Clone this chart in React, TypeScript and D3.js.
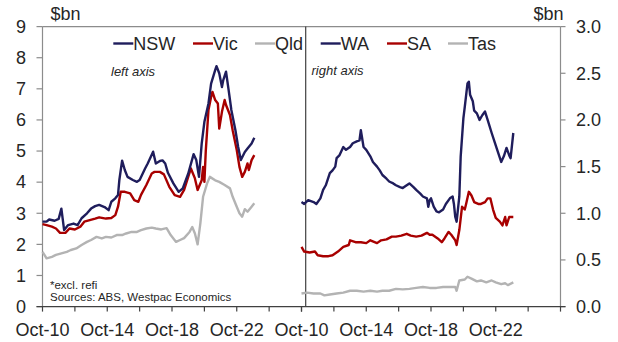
import React from "react";
import * as d3 from "d3";

// months since Oct-2010 and values ($bn)
const nswM = [0, 3, 5, 9, 12, 14, 16, 19, 23, 26, 29, 33, 36, 39, 42, 46, 49, 51, 54, 56, 57, 59, 61, 63, 67, 70, 72, 76, 78, 82, 84, 87, 89, 91, 93, 97, 101, 104, 108, 112, 114, 116, 118, 120, 123, 125, 128, 129, 131, 133, 134, 136, 138, 140, 143, 145, 147, 150, 152, 155, 157];
const nsw = [2.73, 2.73, 2.8, 2.76, 2.82, 3.15, 2.46, 2.62, 2.67, 2.62, 2.84, 3.0, 3.15, 3.23, 3.27, 3.2, 3.1, 3.37, 3.48, 3.59, 4.07, 4.69, 4.39, 4.17, 4.07, 4.01, 4.07, 4.44, 4.6, 4.98, 4.6, 4.68, 4.7, 4.6, 4.3, 3.96, 3.69, 3.8, 4.27, 4.9, 4.71, 4.17, 5.24, 5.94, 6.53, 7.17, 7.6, 7.73, 7.5, 7.06, 7.28, 7.55, 6.96, 6.32, 5.67, 5.14, 4.71, 4.97, 5.08, 5.24, 5.43];

const vicM = [0, 3, 7, 10, 13, 17, 20, 24, 28, 31, 35, 39, 42, 47, 51, 54, 56, 58, 61, 65, 68, 71, 73, 77, 81, 83, 87, 90, 94, 98, 102, 105, 110, 113, 115, 118, 119, 120, 121, 123, 125, 126, 128, 130, 131, 133, 135, 136, 139, 141, 144, 146, 148, 150, 152, 153, 155, 157];
const vic = [2.65, 2.62, 2.57, 2.51, 2.37, 2.37, 2.51, 2.48, 2.57, 2.73, 2.78, 2.83, 2.87, 2.83, 2.85, 2.94, 3.21, 3.69, 3.69, 3.64, 3.42, 3.37, 3.59, 3.91, 4.28, 4.33, 4.33, 4.25, 3.85, 3.58, 3.53, 3.75, 4.44, 4.12, 3.75, 4.06, 4.49, 4.01, 5.0, 6.32, 6.74, 6.9, 6.64, 6.53, 5.72, 6.26, 6.64, 6.48, 6.16, 5.67, 5.03, 4.49, 4.17, 4.33, 4.6, 4.39, 4.71, 4.87];

const qldM = [0, 3, 7, 10, 14, 18, 21, 25, 29, 33, 36, 40, 44, 47, 51, 55, 59, 62, 66, 70, 73, 77, 81, 84, 88, 92, 95, 99, 102, 105, 109, 111, 113, 115, 117, 119, 122, 124, 128, 131, 135, 139, 141, 144, 146, 148, 150, 152, 155, 157];
const qld = [1.76, 1.55, 1.6, 1.66, 1.71, 1.76, 1.82, 1.87, 1.98, 2.08, 2.14, 2.24, 2.19, 2.24, 2.22, 2.3, 2.3, 2.35, 2.4, 2.4, 2.46, 2.51, 2.54, 2.51, 2.48, 2.52, 2.3, 2.08, 2.14, 2.2, 2.4, 2.56, 2.35, 2.0, 2.67, 3.53, 3.96, 4.17, 4.06, 4.01, 3.91, 3.8, 3.53, 3.21, 3.0, 2.89, 3.13, 3.05, 3.21, 3.32];

const waM = [0, 2, 5, 9, 11, 14, 16, 18, 21, 23, 25, 26, 28, 31, 33, 36, 38, 41, 43, 44, 46, 48, 51, 53, 56, 58, 60, 63, 65, 68, 70, 73, 75, 78, 80, 83, 85, 88, 90, 93, 94, 95, 96, 98, 100, 102, 105, 107, 110, 112, 113, 114, 115, 117, 118, 120, 121, 123, 124, 125, 127, 128, 130, 132, 134, 136, 138, 141, 143, 146, 148, 150, 152, 154, 155, 157];
const wa = [1.12, 1.1, 1.14, 1.12, 1.1, 1.16, 1.25, 1.3, 1.43, 1.46, 1.5, 1.59, 1.62, 1.71, 1.68, 1.71, 1.75, 1.77, 1.78, 1.89, 1.71, 1.68, 1.61, 1.55, 1.5, 1.46, 1.41, 1.37, 1.34, 1.32, 1.3, 1.28, 1.27, 1.3, 1.32, 1.28, 1.25, 1.21, 1.18, 1.16, 1.07, 1.14, 1.16, 1.07, 1.02, 1.01, 1.04, 1.1, 1.16, 1.18, 1.1, 0.96, 0.91, 1.18, 1.61, 2.02, 2.14, 2.39, 2.41, 2.27, 2.2, 2.1, 2.07, 2.0, 2.05, 2.09, 2.0, 1.86, 1.77, 1.64, 1.55, 1.61, 1.7, 1.62, 1.59, 1.86];

const saM = [0, 2, 6, 10, 12, 16, 20, 23, 27, 31, 35, 36, 40, 44, 48, 51, 56, 59, 63, 67, 70, 74, 78, 81, 85, 89, 93, 95, 97, 101, 104, 106, 109, 111, 114, 115, 117, 119, 121, 122, 124, 126, 128, 131, 133, 136, 138, 140, 142, 144, 147, 149, 151, 152, 154, 157];
const sa = [0.64, 0.59, 0.58, 0.59, 0.55, 0.54, 0.54, 0.55, 0.59, 0.64, 0.66, 0.71, 0.69, 0.69, 0.68, 0.71, 0.68, 0.71, 0.72, 0.75, 0.75, 0.76, 0.78, 0.76, 0.75, 0.76, 0.79, 0.77, 0.77, 0.73, 0.69, 0.73, 0.8, 0.77, 0.71, 0.66, 0.82, 1.07, 1.04, 1.1, 1.23, 1.19, 1.12, 1.1, 1.1, 1.12, 1.16, 1.16, 1.04, 0.95, 0.91, 0.87, 0.96, 0.87, 0.96, 0.96];

const tasM = [0, 4, 9, 14, 17, 21, 26, 31, 36, 41, 46, 51, 56, 60, 65, 70, 75, 80, 85, 90, 95, 100, 105, 110, 114, 115, 117, 121, 123, 126, 130, 133, 137, 141, 144, 148, 151, 153, 157];
const tas = [0.14, 0.15, 0.14, 0.14, 0.12, 0.13, 0.14, 0.15, 0.17, 0.17, 0.16, 0.17, 0.16, 0.17, 0.17, 0.19, 0.185, 0.19, 0.2, 0.21, 0.2, 0.2, 0.21, 0.21, 0.21, 0.17, 0.28, 0.29, 0.32, 0.3, 0.27, 0.28, 0.26, 0.28, 0.26, 0.24, 0.25, 0.23, 0.26];

const xTickYears = [2010, 2012, 2014, 2016, 2018, 2020, 2022, 2024, 2026];
const xLabelYears = [2010, 2014, 2018, 2022];
const leftTicks = [0, 1, 2, 3, 4, 5, 6, 7, 8, 9];
const rightTicks = [0, 0.5, 1.0, 1.5, 2.0, 2.5, 3.0];

const NAVY = "#1f1d5c";
const RED = "#a80000";
const GREY = "#b3b3b3";
const FONT = "'Liberation Sans', Arial, sans-serif";
const TXT = "#262626";

const toDate = (m: number) => new Date(2010, 9 + m, 1);
const oct = (y: number) => new Date(y, 9, 1);

export default function App() {
  const top = 26.6, bottom = 306.6;
  const xL = d3.scaleTime().domain([oct(2010), oct(2026)]).range([42.5, 301.5]);
  const xR = d3.scaleTime().domain([oct(2010), oct(2026)]).range([301.5, 560.5]);
  const yL = d3.scaleLinear().domain([0, 9]).range([bottom, top]);
  const yR = d3.scaleLinear().domain([0, 3]).range([bottom, top]);

  const mk = (x: any, y: any, ms: number[], vs: number[]) =>
    d3.line<number>().x((_, i) => x(toDate(ms[i]))).y((v) => y(v))(vs) || "";

  const left = [
    { n: "Qld", c: GREY, d: mk(xL, yL, qldM, qld) },
    { n: "Vic", c: RED, d: mk(xL, yL, vicM, vic) },
    { n: "NSW", c: NAVY, d: mk(xL, yL, nswM, nsw) },
  ];
  const right = [
    { n: "Tas", c: GREY, d: mk(xR, yR, tasM, tas) },
    { n: "SA", c: RED, d: mk(xR, yR, saM, sa) },
    { n: "WA", c: NAVY, d: mk(xR, yR, waM, wa) },
  ];

  const legend = [
    { n: "NSW", c: NAVY, x: 113.3 },
    { n: "Vic", c: RED, x: 193 },
    { n: "Qld", c: GREY, x: 255 },
    { n: "WA", c: NAVY, x: 320.7 },
    { n: "SA", c: RED, x: 387 },
    { n: "Tas", c: GREY, x: 448 },
  ];

  return (
    <svg width={618} height={342} style={{ position: "absolute", left: 0, top: 0, background: "#fff" }} fontFamily={FONT}>
      {/* frame */}
      <line x1={42.5} x2={560.5} y1={top} y2={top} stroke="#8c8c8c" strokeWidth={1.2} />
      <line x1={42.5} x2={42.5} y1={top} y2={bottom} stroke="#8c8c8c" strokeWidth={1.2} />
      <line x1={560.5} x2={560.5} y1={top} y2={bottom} stroke="#8c8c8c" strokeWidth={1.2} />
      <line x1={305.7} x2={305.7} y1={top} y2={bottom} stroke="#404040" strokeWidth={1.2} />
      {leftTicks.map((t) => (
        <g key={"l" + t}>
          <line x1={36.5} x2={42.5} y1={yL(t)} y2={yL(t)} stroke="#8c8c8c" strokeWidth={1.2} />
          <text x={26} y={yL(t)} dy="0.35em" textAnchor="end" fontSize={18} fill={TXT}>{t}</text>
        </g>
      ))}
      {rightTicks.map((t) => (
        <g key={"r" + t}>
          <line x1={560.5} x2={565.5} y1={yR(t)} y2={yR(t)} stroke="#8c8c8c" strokeWidth={1.2} />
          <text x={576} y={yR(t)} dy="0.35em" textAnchor="start" fontSize={18} fill={TXT}>{d3.format(".1f")(t)}</text>
        </g>
      ))}
      <text x={50.5} y={20} fontSize={18} fill={TXT}>$bn</text>
      <text x={533.5} y={20} fontSize={18} fill={TXT}>$bn</text>

      {/* series */}
      {left.map((s) => (
        <path key={s.n} d={s.d} fill="none" stroke={s.c} strokeWidth={2.4} strokeLinejoin="round" />
      ))}
      {right.map((s) => (
        <path key={s.n} d={s.d} fill="none" stroke={s.c} strokeWidth={2.4} strokeLinejoin="round" />
      ))}

      {/* bottom axis */}
      <line x1={36.5} x2={565.5} y1={bottom} y2={bottom} stroke="#404040" strokeWidth={1.2} />
      {xTickYears.map((y) => (
        <g key={"xt" + y}>
          <line x1={xL(oct(y))} x2={xL(oct(y))} y1={bottom} y2={bottom + 5} stroke="#404040" strokeWidth={1.2} />
          <line x1={xR(oct(y))} x2={xR(oct(y))} y1={bottom} y2={bottom + 5} stroke="#404040" strokeWidth={1.2} />
        </g>
      ))}
      {xLabelYears.map((y) => (
        <g key={"xl" + y}>
          <text x={xL(oct(y))} y={336} textAnchor="middle" fontSize={18} fill={TXT}>{d3.timeFormat("Oct-%y")(oct(y))}</text>
          <text x={xR(oct(y))} y={336} textAnchor="middle" fontSize={18} fill={TXT}>{d3.timeFormat("Oct-%y")(oct(y))}</text>
        </g>
      ))}

      {/* legend */}
      {legend.map((l) => (
        <g key={"lg" + l.n}>
          <line x1={l.x} x2={l.x + 20} y1={43.5} y2={43.5} stroke={l.c} strokeWidth={2.4} />
          <text x={l.x + 20} y={43.5} dy="0.36em" fontSize={18} fill={TXT}>{l.n}</text>
        </g>
      ))}

      <text x={111} y={76} fontSize={13} fontStyle="italic" fill={TXT}>left axis</text>
      <text x={311.5} y={75} fontSize={13} fontStyle="italic" fill={TXT}>right axis</text>
      <text x={50} y={289} fontSize={11.5} fill={TXT}>*excl. refi</text>
      <text x={50} y={301} fontSize={11.5} fill={TXT}>Sources: ABS, Westpac Economics</text>
    </svg>
  );
}
